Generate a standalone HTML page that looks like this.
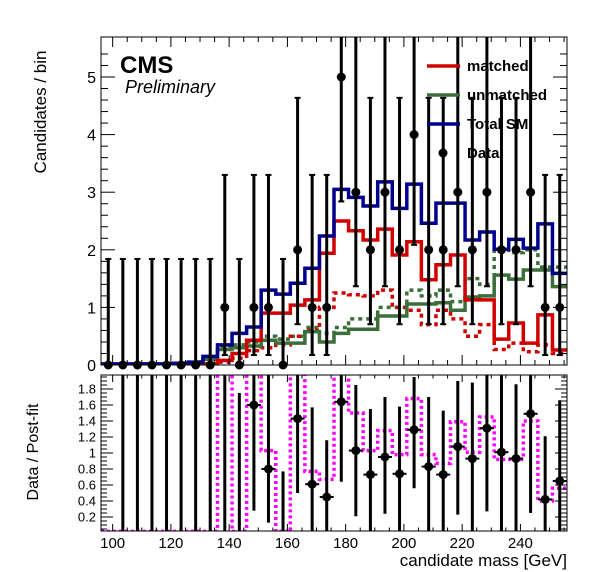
<!DOCTYPE html>
<html><head><meta charset="utf-8"><style>
body{margin:0;background:#fff;}
svg{display:block;font-family:"Liberation Sans",Arial,sans-serif;}
</style></head><body>
<svg id="c" width="596" height="572" viewBox="0 0 596 572"></svg>
<script>
const dataVals=[0,0,0,0,0,0,0,0,1,0,1,1,0,2,1,1,5,3,2,3,2,4,2,2,3,2,3,2,2,3,1,1];
const totalSM=[0.02,0.02,0.02,0.02,0.02,0.03,0.05,0.15,0.35,0.55,0.66,1.3,1.23,1.42,1.68,2.24,3.05,2.91,2.76,3.18,2.72,3.14,2.46,2.81,2.81,2.17,2.31,2.01,2.18,2.03,2.45,1.59];
const matched=[0.01,0.01,0.01,0.01,0.01,0.01,0.01,0.02,0.08,0.2,0.43,0.9,0.9,1.04,1.13,1.94,2.5,2.33,2.17,2.36,1.91,2.14,1.48,1.74,1.91,1.13,1.13,0.45,0.73,0.38,0.87,0.26];
const unmatched=[0.01,0.01,0.01,0.01,0.01,0.02,0.04,0.1,0.27,0.3,0.33,0.43,0.38,0.38,0.58,0.4,0.55,0.62,0.62,0.85,0.85,1.06,1.06,1.08,0.95,1.18,1.2,1.56,1.49,1.65,1.65,1.36];
const matchedPre=[0.01,0.01,0.01,0.01,0.01,0.01,0.01,0.02,0.05,0.12,0.25,0.3,0.35,0.5,0.6,1.0,1.25,1.22,1.2,1.3,1.0,0.95,0.7,0.95,0.8,0.5,0.7,0.27,0.38,0.23,0.35,0.2];
const unmatchedPre=[0.01,0.01,0.01,0.01,0.01,0.02,0.05,0.12,0.3,0.35,0.4,0.5,0.45,0.5,0.65,0.55,0.65,0.8,0.8,1.0,1.0,1.3,1.2,1.3,1.1,1.5,1.4,2.0,1.95,2.0,1.7,1.7];
const ratioVal=[null,0,0,0,0,0,0,0,null,0,1.6,0.8,0,1.43,0.61,0.45,1.64,1.03,0.73,0.95,0.74,1.29,0.83,0.73,1.08,0.93,1.31,1.01,0.93,1.49,0.42,0.65];
const ratioUp=[null,2.2,2.2,2.2,2.2,2.2,2.2,2.2,2.2,1.75,2.2,2.2,0.77,2.2,1.57,1.16,2.2,1.85,1.55,1.7,1.58,1.95,1.7,1.53,1.9,1.88,2.2,2.2,1.86,2.2,1.21,1.66];
const ratioDn=[null,0,0,0,0,0,0,0,0,0,0.28,0.13,0,0.5,0.02,0.02,0.64,0.21,0.02,0.24,0.02,0.56,0.02,0.02,0.23,0.02,0.27,0.02,0.02,0.25,0.02,0.02];
const preRatio=[0.02,0.02,0.02,0.02,0.02,0.02,0.02,0.02,2.5,0.02,2.5,1.03,0.02,2.5,0.77,0.67,2.5,1.5,1.03,1.28,0.98,1.68,0.98,0.87,1.39,1.01,1.45,0.92,0.92,1.4,0.4,0.56];
const xTicks=[100,120,140,160,180,200,220,240];
const yTicks=[0,1,2,3,4,5];
const rTicks=[0.2,0.4,0.6,0.8,1,1.2,1.4,1.6,1.8];
const rTickLabels=["0.2","0.4","0.6","0.8","1","1.2","1.4","1.6","1.8"];

const NS="http://www.w3.org/2000/svg";
const svg=document.getElementById('c');
const L=101,R=567,T1=37,B1=365,T2=375,B2=531;
const X0=96,X1=256,BW=5;
function x(v){return L+(v-X0)*(R-L)/(X1-X0);}
function y(v){return 365-v*57.6;}
function yr(v){return 533-v*80;}
function el(tag,attrs,parent){const e=document.createElementNS(NS,tag);for(const k in attrs)e.setAttribute(k,attrs[k]);(parent||svg).appendChild(e);return e;}
const defs=el('defs',{});
const cp1=el('clipPath',{id:'cp1'},defs);el('rect',{x:L,y:T1,width:R-L,height:B1-T1},cp1);
const cp2=el('clipPath',{id:'cp2'},defs);el('rect',{x:L,y:T2,width:R-L,height:B2-T2},cp2);

function stepPath(vals,fy){let d='';vals.forEach((v,i)=>{const a=x(X0+i*BW),b=x(X0+(i+1)*BW),yy=fy(v);d+=(i===0?'M':'L')+a+','+yy+'L'+b+','+yy;});return d;}

const g1=el('g',{'clip-path':'url(#cp1)'});


function hist(vals,color,dash,name,g,fy){const p=el('path',{d:stepPath(vals,fy),fill:'none',stroke:color,'stroke-width':3.5,'stroke-dasharray':dash||'none'},g);}
hist(unmatchedPre,'#3c6e3c','4,4','unmatched-prefit-hist',g1,y);
hist(matchedPre,'#d00000','4,4','matched-prefit-hist',g1,y);
hist(unmatched,'#3c6e3c','','unmatched-hist',g1,y);
hist(matched,'#d00000','','matched-hist',g1,y);
hist(totalSM,'#00008c','','total-sm-hist',g1,y);

const gd1=el('g',{});


function pLo(n){return [0,0.173,0.708,1.367,2.086,2.84,3.62][n];}
function pHi(n){return [1.841,3.3,4.638,5.918,7.163,8.382,9.584][n];}
dataVals.forEach((n,i)=>{const cx=x(X0+(i+0.5)*BW);
 const top=Math.max(y(pHi(n)),T1);
 const ln=el('line',{x1:cx,x2:cx,y1:y(pLo(n)),y2:top,stroke:'#000','stroke-width':3},gd1);
 
 if(y(pHi(n))>T1)el('line',{x1:cx-3,x2:cx+3,y1:top,y2:top,stroke:'#000','stroke-width':2},gd1);
 if(n>0)el('line',{x1:cx-3,x2:cx+3,y1:y(pLo(n)),y2:y(pLo(n)),stroke:'#000','stroke-width':2},gd1);
 const c=el('circle',{cx:cx,cy:y(n),r:4.5,fill:'#000'},gd1);
 
});

const g2=el('g',{'clip-path':'url(#cp2)'});


hist(preRatio,'#ff00ff','3,3','prefit-ratio-hist',g2,yr);
ratioVal.forEach((r,i)=>{if(ratioUp[i]===null)return;const cx=x(X0+(i+0.5)*BW);
 const ln=el('line',{x1:cx,x2:cx,y1:yr(ratioDn[i]),y2:yr(ratioUp[i]),stroke:'#000','stroke-width':3},g2);
 
 if(r!==null&&r>0){el('line',{x1:cx-7,x2:cx+7,y1:yr(r),y2:yr(r),stroke:'#000','stroke-width':2},g2);
 const c=el('circle',{cx:cx,cy:yr(r),r:4.5,fill:'#000'},g2);
 }
});

const f1=el('rect',{x:L,y:T1,width:R-L,height:B1-T1,fill:'none',stroke:'#000','stroke-width':1});

const f2=el('rect',{x:L,y:T2,width:R-L,height:B2-T2,fill:'none',stroke:'#000','stroke-width':1});


for(let v=100;v<=255;v+=5){const major=v%20===0;const len=major?10:5;const xx=x(v);
 el('line',{x1:xx,x2:xx,y1:B1,y2:B1-len,stroke:'#000'});el('line',{x1:xx,x2:xx,y1:T1,y2:T1+len,stroke:'#000'});
 el('line',{x1:xx,x2:xx,y1:B2,y2:B2-len*0.7,stroke:'#000'});el('line',{x1:xx,x2:xx,y1:T2,y2:T2+len*0.7,stroke:'#000'});}
xTicks.forEach(v=>{const t=el('text',{x:x(v),y:548,'text-anchor':'middle','font-size':15});t.textContent=v;
 });
for(let v=0;v<=5.6;v+=0.2){const vv=Math.round(v*10)/10;const major=Math.abs(vv-Math.round(vv))<1e-6;const len=major?14:7;
 el('line',{x1:L,x2:L+len,y1:y(vv),y2:y(vv),stroke:'#000'});el('line',{x1:R,x2:R-len,y1:y(vv),y2:y(vv),stroke:'#000'});}
yTicks.forEach(v=>{const t=el('text',{x:96,y:y(v)+6,'text-anchor':'end','font-size':16});t.textContent=v;
 });
for(let k=1;k<=39;k++){const v=k*0.05;const major=k%4===0;const len=major?12:6;
 el('line',{x1:L,x2:L+len,y1:yr(v),y2:yr(v),stroke:'#000'});el('line',{x1:R,x2:R-len,y1:yr(v),y2:yr(v),stroke:'#000'});}
rTicks.forEach((v,i)=>{const t=el('text',{x:96,y:yr(v)+4.5,'text-anchor':'end','font-size':13});t.textContent=rTickLabels[i];
 });

let t=el('text',{x:0,y:0,'font-size':17,'text-anchor':'middle',transform:'translate(46,112) rotate(-90)'});t.textContent='Candidates / bin';

t=el('text',{x:0,y:0,'font-size':16,'text-anchor':'middle',transform:'translate(38,452) rotate(-90)'});t.textContent='Data / Post-fit';

t=el('text',{x:567,y:566,'font-size':17,'text-anchor':'end'});t.textContent='candidate mass [GeV]';

t=el('text',{x:120,y:73,'font-size':24,'font-weight':'bold'});t.textContent='CMS';

t=el('text',{x:125,y:93,'font-size':18,'font-style':'italic'});t.textContent='Preliminary';


const leg=el('g',{});

const entries=[['matched','#d00000',66],['unmatched','#3c6e3c',95],['Total SM','#00008c',124]];
entries.forEach(e=>{const g=el('g',{},leg);
 el('line',{x1:427,x2:460,y1:e[2],y2:e[2],stroke:e[1],'stroke-width':3.5},g);
 const tx=el('text',{x:467,y:e[2]+5,'font-size':15,'font-weight':'bold'},g);tx.textContent=e[0];});
const gd=el('g',{},leg);
el('circle',{cx:443,cy:153,r:4.5,fill:'#000'},gd);
const td=el('text',{x:467,y:158,'font-size':15,'font-weight':'bold'},gd);td.textContent='Data';
</script>
</body></html>
